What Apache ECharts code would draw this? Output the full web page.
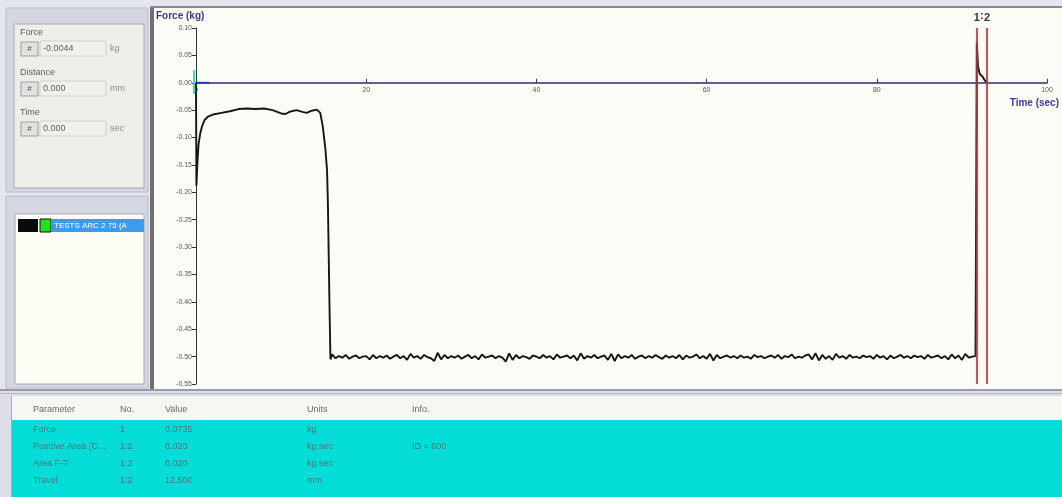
<!DOCTYPE html>
<html>
<head>
<meta charset="utf-8">
<title>Force vs Time</title>
<script src="https://cdn.jsdelivr.net/npm/echarts@6/dist/echarts.min.js"></script>
<style>
  html, body { margin: 0; padding: 0; background: #e6e7ee; }
  #main { width: 1062px; height: 497px; }
</style>
</head>
<body>
<div id="main"></div>
<script>
// ---- test data -------------------------------------------------------------
// compression phase at the start of the test (time s, force kg)
const startTimes  = [0, 0.05, 0.15, 0.3, 0.5, 0.7, 1.0, 1.4, 2.0, 3.0, 4.0, 5.0, 6.0, 7.0, 8.0, 9.0, 10.0, 10.5, 11.0, 11.8, 12.5, 13.0, 13.6, 14.2, 14.6, 14.9, 15.2, 15.4, 15.5, 15.6, 15.7, 15.8];
const startForces = [0, -0.188, -0.150, -0.112, -0.092, -0.080, -0.068, -0.062, -0.058, -0.055, -0.052, -0.048, -0.047, -0.048, -0.047, -0.050, -0.056, -0.057, -0.053, -0.050, -0.053, -0.055, -0.051, -0.049, -0.055, -0.080, -0.120, -0.160, -0.220, -0.320, -0.420, -0.505];

// hold phase, sampled every 0.4 s from 16.0 s
const plateauStart = 16.0;
const plateauStep = 0.4;
const plateauForces = [
  -0.496,-0.503,-0.499,-0.502,-0.497,-0.504,-0.500,-0.498,-0.503,-0.500,
  -0.499,-0.505,-0.497,-0.503,-0.499,-0.502,-0.498,-0.504,-0.500,-0.497,
  -0.503,-0.499,-0.506,-0.495,-0.502,-0.499,-0.504,-0.497,-0.501,-0.503,
  -0.508,-0.493,-0.505,-0.497,-0.503,-0.499,-0.502,-0.498,-0.504,-0.500,
  -0.497,-0.503,-0.499,-0.505,-0.496,-0.502,-0.500,-0.498,-0.503,-0.499,
  -0.502,-0.509,-0.494,-0.506,-0.497,-0.503,-0.499,-0.501,-0.504,-0.498,
  -0.500,-0.503,-0.497,-0.502,-0.499,-0.505,-0.496,-0.502,-0.500,-0.498,
  -0.503,-0.498,-0.507,-0.494,-0.504,-0.499,-0.502,-0.497,-0.503,-0.500,
  -0.498,-0.506,-0.495,-0.508,-0.496,-0.503,-0.499,-0.502,-0.497,-0.504,
  -0.500,-0.498,-0.503,-0.499,-0.502,-0.497,-0.501,-0.504,-0.498,-0.502,
  -0.499,-0.503,-0.497,-0.505,-0.498,-0.502,-0.500,-0.496,-0.503,-0.499,
  -0.504,-0.495,-0.507,-0.497,-0.503,-0.500,-0.498,-0.502,-0.499,-0.503,
  -0.498,-0.502,-0.500,-0.504,-0.497,-0.501,-0.499,-0.503,-0.500,-0.498,
  -0.502,-0.497,-0.504,-0.499,-0.501,-0.496,-0.503,-0.500,-0.502,-0.498,
  -0.496,-0.505,-0.494,-0.507,-0.497,-0.504,-0.499,-0.506,-0.495,-0.502,
  -0.499,-0.504,-0.497,-0.502,-0.500,-0.503,-0.498,-0.501,-0.499,-0.504,
  -0.497,-0.502,-0.499,-0.505,-0.498,-0.503,-0.500,-0.497,-0.502,-0.499,
  -0.503,-0.498,-0.501,-0.499,-0.504,-0.497,-0.502,-0.500,-0.498,-0.503,
  -0.499,-0.505,-0.496,-0.503,-0.498,-0.506,-0.495,-0.502,-0.500,-0.499
];

// withdrawal at the end of the test
const endTimes  = [91.7, 91.75, 91.9, 92.1, 92.4, 92.7, 93.0];
const endForces = [-0.500, 0.0735, 0.030, 0.016, 0.012, 0.004, 0];

// short baseline trace before the test starts
const baselineTimes  = [0, 1.6];
const baselineForces = [0, 0];

// analysis markers
const markerTimes  = [91.75, 92.95];
const markerLabels = ['1', '2'];

// axes
const yTicks = { min: -0.55, max: 0.10, step: 0.05 };
const xTicks = { min: 0, max: 100, step: 20 };

// readout panel
const readoutLabels = ['Force', 'Distance', 'Time'];
const readoutValues = ['-0.0044', '0.000', '0.000'];
const readoutUnits  = ['kg', 'mm', 'sec'];

// file list
const fileNames = ['TESTS ARC 2 75 (A'];

// results table
const tableHeaders = ['Parameter', 'No.', 'Value', 'Units', 'Info.'];
const paramNames   = ['Force', 'Positive Area (C...', 'Area F-T', 'Travel'];
const paramNos     = ['1', '1:2', '1:2', '1:2'];
const paramValues  = ['0.0735', '0.020', '0.020', '12.500'];
const paramUnits   = ['kg', 'kg.sec', 'kg.sec', 'mm'];
const paramInfo    = ['', 'ID = 600', '', ''];

// ---- build -----------------------------------------------------------------
const trace = [];
startTimes.forEach((t, i) => trace.push([t, startForces[i]]));
plateauForces.forEach((f, i) => trace.push([+(plateauStart + i * plateauStep).toFixed(2), f]));
endTimes.forEach((t, i) => trace.push([t, endForces[i]]));

const baseline = baselineTimes.map((t, i) => [t, baselineForces[i]]);

const FONT = '"Liberation Sans", Arial, sans-serif';
const uiText = '#5c5c5c';
const W = 1062, H = 497;
const GRID = { left: 196, right: 15, top: 28, bottom: 113 };

function panelGraphics() {
  const g = [];
  // window chrome
  g.push({ type: 'rect', z: -20, shape: { x: 0, y: 0, width: W, height: H }, style: { fill: '#e4e5ee' } });

  // readout panel
  g.push({ type: 'rect', z: -10, shape: { x: 6, y: 8, width: 142, height: 184 }, style: { fill: '#d4d6e2', stroke: '#b9bccb' } });
  g.push({ type: 'rect', z: -9, shape: { x: 14, y: 24, width: 130, height: 164 }, style: { fill: '#eeeee9', stroke: '#a8a8b0', lineWidth: 1 } });
  readoutLabels.forEach((lab, i) => {
    const y0 = 33 + i * 40;
    g.push({ type: 'text', z: -8, style: { x: 20, y: y0, text: lab, fill: uiText, font: '9px ' + FONT, textVerticalAlign: 'middle' } });
    g.push({ type: 'rect', z: -8, shape: { x: 21, y: y0 + 9, width: 17, height: 14 }, style: { fill: '#e2e2e2', stroke: '#9a9a9a' } });
    g.push({ type: 'text', z: -7, style: { x: 29.5, y: y0 + 16, text: '#', fill: '#555', font: '8px ' + FONT, textAlign: 'center', textVerticalAlign: 'middle' } });
    g.push({ type: 'rect', z: -8, shape: { x: 40, y: y0 + 8, width: 66, height: 15 }, style: { fill: '#f1f1ec', stroke: '#d2d2cc' } });
    g.push({ type: 'text', z: -7, style: { x: 43, y: y0 + 16, text: readoutValues[i], fill: uiText, font: '9px ' + FONT, textVerticalAlign: 'middle' } });
    g.push({ type: 'text', z: -7, style: { x: 110, y: y0 + 16, text: readoutUnits[i], fill: '#8a8a8a', font: '9px ' + FONT, textVerticalAlign: 'middle' } });
  });

  // file list panel
  g.push({ type: 'rect', z: -10, shape: { x: 6, y: 196, width: 142, height: 192 }, style: { fill: '#d4d6e2', stroke: '#b9bccb' } });
  g.push({ type: 'rect', z: -9, shape: { x: 15, y: 214, width: 129, height: 170 }, style: { fill: '#fdfdf6', stroke: '#a8a8b0' } });
  fileNames.forEach((name, i) => {
    const y0 = 219 + i * 14;
    g.push({ type: 'rect', z: -8, shape: { x: 18, y: y0, width: 20, height: 13 }, style: { fill: '#0a0a0a' } });
    g.push({ type: 'rect', z: -8, shape: { x: 40, y: y0, width: 11, height: 13 }, style: { fill: '#22e022', stroke: '#111' } });
    g.push({ type: 'rect', z: -8, shape: { x: 52, y: y0, width: 92, height: 13 }, style: { fill: '#3d9be9' } });
    g.push({ type: 'text', z: -7, style: { x: 54, y: y0 + 7, text: name, fill: '#ffffff', font: '8px ' + FONT, textVerticalAlign: 'middle' } });
  });

  // chart panel
  g.push({ type: 'rect', z: -10, shape: { x: 150, y: 6, width: 912, height: 384 }, style: { fill: '#fcfcf7' } });
  g.push({ type: 'rect', z: -9, shape: { x: 150, y: 6, width: 4, height: 384 }, style: { fill: '#707070' } });
  g.push({ type: 'rect', z: -9, shape: { x: 150, y: 6, width: 912, height: 2 }, style: { fill: '#8a8a8a' } });
  g.push({ type: 'text', z: 5, style: { x: 156, y: 16, text: 'Force (kg)', fill: '#3b3b8f', font: 'bold 10px ' + FONT, textVerticalAlign: 'middle' } });
  g.push({ type: 'text', z: 5, style: { x: 1059, y: 103, text: 'Time (sec)', fill: '#3b3b8f', font: 'bold 10px ' + FONT, textAlign: 'right', textVerticalAlign: 'middle' } });
  // cursor at the origin
  g.push({ type: 'rect', z: 5, shape: { x: 193, y: 70, width: 2, height: 24 }, style: { fill: '#38e0c8' } });

  // results table
  g.push({ type: 'rect', z: -10, shape: { x: 0, y: 390, width: W, height: 107 }, style: { fill: '#dcdde6' } });
  g.push({ type: 'rect', z: -9, shape: { x: 0, y: 389, width: W, height: 2 }, style: { fill: '#9a9ba6' } });
  g.push({ type: 'rect', z: -9, shape: { x: 0, y: 393, width: W, height: 1 }, style: { fill: '#b6b7c2' } });
  g.push({ type: 'rect', z: -9, shape: { x: 12, y: 396, width: 1050, height: 24 }, style: { fill: '#f7f7f1' } });
  g.push({ type: 'rect', z: -9, shape: { x: 12, y: 420, width: 1050, height: 77 }, style: { fill: '#04dcd8' } });
  g.push({ type: 'rect', z: -8, shape: { x: 11, y: 396, width: 1, height: 101 }, style: { fill: '#a6a8b4' } });
  const colX = [33, 120, 165, 307, 412];
  tableHeaders.forEach((h, i) => {
    g.push({ type: 'text', z: -7, style: { x: colX[i], y: 410, text: h, fill: '#666', font: '9px ' + FONT, textVerticalAlign: 'middle' } });
  });
  const cols = [paramNames, paramNos, paramValues, paramUnits, paramInfo];
  paramNames.forEach((_, r) => {
    cols.forEach((col, c) => {
      if (!col[r]) return;
      g.push({ type: 'text', z: -7, style: { x: colX[c], y: 430 + r * 16.8, text: col[r], fill: '#4f7478', font: '9px ' + FONT, textVerticalAlign: 'middle' } });
    });
  });
  return g;
}

const chart = echarts.init(document.getElementById('main'), null, { renderer: 'canvas', width: W, height: H });

const option = {
  animation: false,
  backgroundColor: 'transparent',
  grid: Object.assign({ containLabel: false }, GRID),
  xAxis: {
    type: 'value',
    position: 'bottom',
    min: xTicks.min, max: xTicks.max, interval: xTicks.step,
    axisLine: { onZero: false, lineStyle: { color: '#2c2c6e', width: 1.5 } },
    axisTick: { inside: true, length: 4, lineStyle: { color: '#2c2c6e' } },
    axisLabel: { color: '#555', fontSize: 7, fontFamily: FONT, margin: 4 },
    splitLine: { show: false }
  },
  yAxis: {
    type: 'value',
    min: yTicks.min, max: yTicks.max, interval: yTicks.step,
    axisLine: { show: true, onZero: false, lineStyle: { color: '#333', width: 1 } },
    axisTick: { show: true, length: 4, lineStyle: { color: '#333' } },
    axisLabel: { color: '#555', fontSize: 7, fontFamily: FONT, margin: 4, formatter: v => v.toFixed(2) },
    splitLine: { show: false }
  },
  graphic: panelGraphics(),
  series: [
    {
      type: 'line',
      data: baseline,
      showSymbol: false,
      lineStyle: { color: '#3434c8', width: 2 },
      z: 3
    },
    {
      type: 'line',
      data: trace,
      showSymbol: false,
      lineStyle: { color: '#151515', width: 1.9 },
      z: 4,
      markLine: {
        silent: true,
        symbol: ['none', 'none'],
        lineStyle: { color: '#8e3d38', width: 1.5, type: 'solid', shadowBlur: 2, shadowColor: 'rgba(235,130,130,0.7)' },
        label: { show: true, position: 'end', distance: 5, color: '#333', fontSize: 11, fontWeight: 'bold', fontFamily: FONT },
        data: markerTimes.map((t, i) => ({ xAxis: t, label: { formatter: markerLabels[i] } }))
      }
    }
  ]
};
chart.setOption(option);

// move the time axis (line, ticks and labels) up to the zero-force level
const zeroY = chart.convertToPixel({ yAxisIndex: 0 }, 0);
const gridBottomY = H - GRID.bottom;

// separator between the two marker numbers
const p1 = chart.convertToPixel({ gridIndex: 0 }, [markerTimes[0], yTicks.max]);
const p2 = chart.convertToPixel({ gridIndex: 0 }, [markerTimes[1], yTicks.max]);
const gfx = panelGraphics();
gfx.push({ type: 'text', z: 6, style: { x: (p1[0] + p2[0]) / 2, y: p1[1] - 12, text: ':', fill: '#333', font: 'bold 11px ' + FONT, textAlign: 'center', textVerticalAlign: 'middle' } });

chart.setOption({ xAxis: { offset: zeroY - gridBottomY }, graphic: gfx }, { replaceMerge: ['graphic'] });
</script>
</body>
</html>
